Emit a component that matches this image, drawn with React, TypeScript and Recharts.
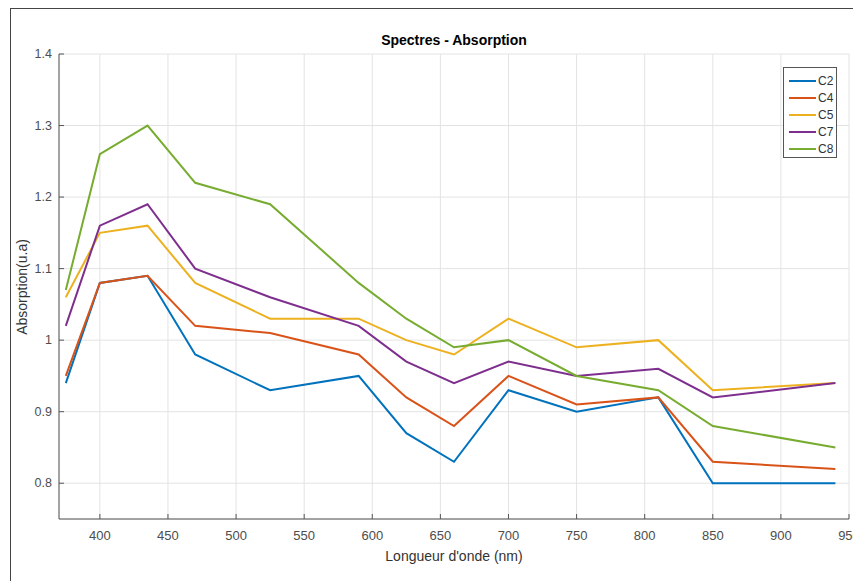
import {
  LineChart,
  Line,
  XAxis,
  YAxis,
  CartesianGrid,
} from "recharts";

const wavelengths = [375, 400, 435, 470, 525, 590, 625, 660, 700, 750, 810, 850, 940];
const c2 = [0.94, 1.08, 1.09, 0.98, 0.93, 0.95, 0.87, 0.83, 0.93, 0.9, 0.92, 0.8, 0.8];
const c4 = [0.95, 1.08, 1.09, 1.02, 1.01, 0.98, 0.92, 0.88, 0.95, 0.91, 0.92, 0.83, 0.82];
const c5 = [1.06, 1.15, 1.16, 1.08, 1.03, 1.03, 1.0, 0.98, 1.03, 0.99, 1.0, 0.93, 0.94];
const c7 = [1.02, 1.16, 1.19, 1.1, 1.06, 1.02, 0.97, 0.94, 0.97, 0.95, 0.96, 0.92, 0.94];
const c8 = [1.07, 1.26, 1.3, 1.22, 1.19, 1.08, 1.03, 0.99, 1.0, 0.95, 0.93, 0.88, 0.85];

const xTicks = [400, 450, 500, 550, 600, 650, 700, 750, 800, 850, 900, 950];
const yTicks = [0.8, 0.9, 1, 1.1, 1.2, 1.3, 1.4];

const series = [
  { key: "C2", color: "#0072BD" },
  { key: "C4", color: "#D95319" },
  { key: "C5", color: "#EDB120" },
  { key: "C7", color: "#7E2F8E" },
  { key: "C8", color: "#77AC30" },
];

const data = wavelengths.map((w, i) => ({
  w,
  C2: c2[i],
  C4: c4[i],
  C5: c5[i],
  C7: c7[i],
  C8: c8[i],
}));

const axisColor = "#555";
const textColor = "#4d4d4d";
const font = "'Liberation Sans', Arial, sans-serif";

// inward ticks, MATLAB style
const BottomTick = ({ x, y, payload }: any) => (
  <g>
    <line x1={x} x2={x} y1={y} y2={y - 5} stroke={axisColor} />
    <text x={x} y={y + 21} textAnchor="middle" fill={textColor} fontSize={13} fontFamily={font}>
      {payload.value}
    </text>
  </g>
);

const TopTick = ({ x, y }: any) => (
  <line x1={x} x2={x} y1={y} y2={y + 5} stroke={axisColor} />
);

const LeftTick = ({ x, y, payload }: any) => (
  <g>
    <line x1={x} x2={x + 5} y1={y} y2={y} stroke={axisColor} />
    <text x={x - 7} y={y + 4} textAnchor="end" fill={textColor} fontSize={12.5} fontFamily={font}>
      {payload.value}
    </text>
  </g>
);

const RightTick = ({ x, y }: any) => (
  <line x1={x} x2={x - 5} y1={y} y2={y} stroke={axisColor} />
);

export default function App() {
  return (
    <div
      style={{
        position: "absolute",
        left: 0,
        top: 0,
        width: 853,
        height: 581,
        overflow: "hidden",
        background: "#fff",
        fontFamily: font,
      }}
    >
      <div
        style={{
          position: "absolute",
          left: 10,
          top: 8,
          width: 1000,
          height: 1000,
          border: "1.5px solid #444",
        }}
      />
      <LineChart
        width={853}
        height={581}
        data={data}
        margin={{ top: 54, right: 4, bottom: 0, left: 0 }}
        style={{ position: "absolute", left: 0, top: 0 }}
      >
        <CartesianGrid stroke="#e3e3e3" />
        <XAxis
          dataKey="w"
          type="number"
          domain={[370, 950]}
          ticks={xTicks}
          allowDataOverflow
          height={62}
          stroke={axisColor}
          tickSize={0}
          tickMargin={0}
          tick={<BottomTick />}
          interval={0}
        />
        <XAxis
          xAxisId="top"
          orientation="top"
          dataKey="w"
          type="number"
          domain={[370, 950]}
          ticks={xTicks}
          allowDataOverflow
          height={0}
          stroke={axisColor}
          tickSize={0}
          tickMargin={0}
          tick={<TopTick />}
          interval={0}
        />
        <YAxis
          type="number"
          domain={[0.75, 1.4]}
          ticks={yTicks}
          allowDataOverflow
          width={59}
          stroke={axisColor}
          tickSize={0}
          tickMargin={0}
          tick={<LeftTick />}
          interval={0}
        />
        <YAxis
          yAxisId="right"
          orientation="right"
          type="number"
          domain={[0.75, 1.4]}
          ticks={yTicks}
          allowDataOverflow
          width={0}
          stroke={axisColor}
          tickSize={0}
          tickMargin={0}
          tick={<RightTick />}
          interval={0}
        />
        {series.map((s) => (
          <Line
            key={s.key}
            dataKey={s.key}
            stroke={s.color}
            strokeWidth={2}
            dot={false}
            isAnimationActive={false}
            type="linear"
          />
        ))}
      </LineChart>
      <div
        style={{
          position: "absolute",
          left: 0,
          width: 908,
          top: 32,
          textAlign: "center",
          fontSize: 14,
          fontWeight: "bold",
          color: "#000",
        }}
      >
        Spectres - Absorption
      </div>
      <div
        style={{
          position: "absolute",
          left: 0,
          width: 908,
          top: 548,
          textAlign: "center",
          fontSize: 14,
          color: "#333",
        }}
      >
        Longueur d'onde (nm)
      </div>
      <div
        style={{
          position: "absolute",
          left: 22,
          top: 287,
          transform: "translate(-50%, -50%) rotate(-90deg)",
          whiteSpace: "nowrap",
          fontSize: 14,
          color: "#333",
        }}
      >
        Absorption(u.a)
      </div>
      <div
        style={{
          position: "absolute",
          left: 783,
          top: 67,
          width: 54,
          height: 91,
          border: "1px solid #555",
          background: "#fff",
          boxSizing: "border-box",
          paddingTop: 4,
        }}
      >
        {series.map((s) => (
          <div
            key={s.key}
            style={{ display: "flex", alignItems: "center", height: 17, fontSize: 12, color: "#333" }}
          >
            <div style={{ width: 27, height: 2, background: s.color, marginLeft: 5, marginRight: 2 }} />
            {s.key}
          </div>
        ))}
      </div>
    </div>
  );
}
